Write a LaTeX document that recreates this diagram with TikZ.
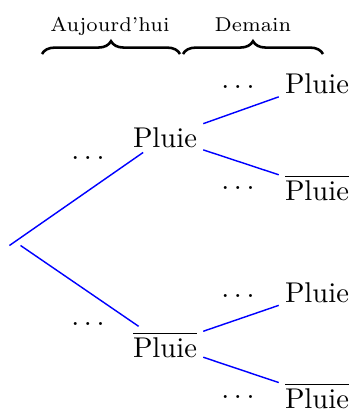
\documentclass[tikz,border=0pt]{standalone}
\usetikzlibrary{decorations.pathreplacing}
\begin{document}
\begin{tikzpicture}[x=0.35pt,y=-0.35pt,
  state/.style={inner xsep=2pt,inner ysep=1.6pt,anchor=base,font=\normalsize},
  branch/.style={blue,line width=0.5pt},
  dotslabel/.style={inner sep=0pt,font=\normalsize},
  period/.style={font=\scriptsize,anchor=base,inner sep=0pt},
  periodbrace/.style={decorate,decoration={brace,amplitude=4.5pt},line width=0.9pt}]
\useasboundingbox (0,0) rectangle (351,410);

% time headers
\node[period] (today) at (110,31.7) {Aujourd'hui};
\node[period] (tomorrow) at (253,31.7) {Demain};
\draw[periodbrace] (42,54) -- (180,54);
\draw[periodbrace] (183,54) -- (323,54);

% root of the tree
\node[inner sep=0pt,minimum width=3.5pt,minimum height=0pt] (root) at (15,245.5) {};

% first level
\node[state] (p1) at (165,147) {Pluie};
\node[state] (b1) at (165,357) {$\overline{\mbox{Pluie}}$};

% second level
\node[state] (p1p) at (317,93) {Pluie};
\node[state] (p1b) at (317,200) {$\overline{\mbox{Pluie}}$};
\node[state] (b1p) at (317,302) {Pluie};
\node[state] (b1b) at (317,408) {$\overline{\mbox{Pluie}}$};

% branches
\draw[branch] (root.west) -- (p1);
\draw[branch] (root.east) -- (b1);
\draw[branch] (p1) -- (p1p);
\draw[branch] (p1) -- (p1b);
\draw[branch] (b1) -- (b1p);
\draw[branch] (b1) -- (b1b);

% probability placeholders
\node[dotslabel] (d1) at (88,158) {$\ldots$};
\node[dotslabel] (d2) at (88,324) {$\ldots$};
\node[dotslabel] (d3) at (238,87) {$\ldots$};
\node[dotslabel] (d4) at (238,188) {$\ldots$};
\node[dotslabel] (d5) at (238,296) {$\ldots$};
\node[dotslabel] (d6) at (238,397) {$\ldots$};
\end{tikzpicture}
\end{document}
